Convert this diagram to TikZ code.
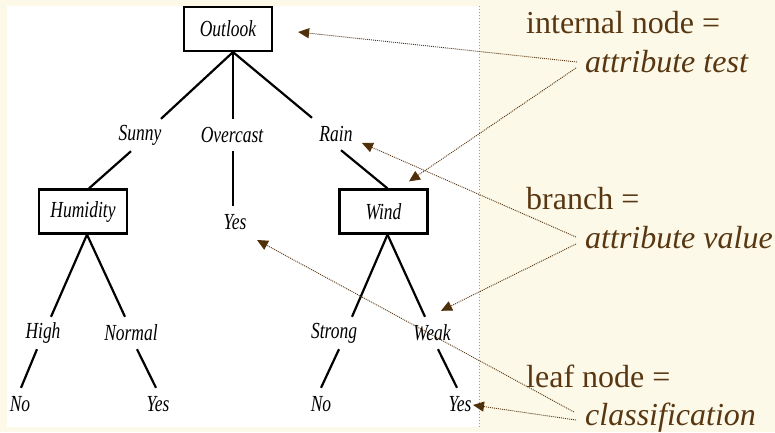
\documentclass[tikz,border=0pt]{standalone}
\usepackage{fontspec}
\newfontfamily\notefont{Liberation Serif}
\newfontfamily\treefont{Liberation Serif}[FakeStretch=0.76]
\usetikzlibrary{arrows.meta}
\definecolor{paper}{RGB}{252,249,232}
\definecolor{ink}{RGB}{88,55,18}
\definecolor{tipc}{RGB}{80,48,10}
\definecolor{rule}{RGB}{160,160,160}

\begin{document}
\begin{tikzpicture}[x=1pt,y=-1pt,
  treefnt/.style={font=\treefont\itshape\fontsize{23}{25}\selectfont},
  treebox/.style={treefnt,draw=black,line width=2.2pt,fill=white,
    minimum width=88pt,minimum height=44pt,inner sep=0pt},
  lbl/.style={treefnt,inner sep=0pt,minimum height=32pt},
  edge/.style={line width=2.2pt,black},
  note/.style={anchor=base west,inner sep=0pt,text=ink,
    font=\notefont\fontsize{32}{36}\selectfont},
  pointer/.style={draw=ink,line width=0.9pt,dash pattern=on 1pt off 1pt,
    -{Triangle[length=11pt,width=10pt,color=tipc]}}
]
% page, white drawing area and its dotted right border
\useasboundingbox (0,0) rectangle (775,432);
\fill[paper] (0,0) rectangle (775,432);
\fill[white] (7,6) rectangle (479,427);
\draw[rule,line width=0.8pt,dash pattern=on 1pt off 2pt] (479,6) -- (479,427);

% decision tree
\node[treebox] (outlook)  at (228,29)    {Outlook};
\node[lbl]     (sunny)    at (140,135)   {Sunny};
\node[lbl]     (overcast) at (232,135)   {Overcast};
\node[lbl]     (rain)     at (336,134)   {Rain};
\node[treebox] (humidity) at (83,211.5)  {Humidity};
\node[lbl]     (yesA)     at (235,222)   {Yes};
\node[treebox] (wind)     at (383.5,211.5) {Wind};
\node[lbl]     (high)     at (43,333)    {High};
\node[lbl]     (normal)   at (131,333)   {Normal};
\node[lbl]     (strong)   at (334,333)   {Strong};
\node[lbl]     (weak)     at (432,333)   {Weak};
\node[lbl]     (noA)      at (20,404)    {No};
\node[lbl]     (yesB)     at (158,404)   {Yes};
\node[lbl]     (noB)      at (321,404)   {No};
\node[lbl]     (yesC)     at (460,404)   {Yes};

\draw[edge] ([shift={(5,0)}]outlook.south) -- ([shift={(21,0)}]sunny.north);
\draw[edge] ([shift={(5,0)}]outlook.south) -- ([shift={(1,0)}]overcast.north);
\draw[edge] ([shift={(5,0)}]outlook.south) -- ([shift={(-24,0)}]rain.north);
\draw[edge] ([shift={(-9,0)}]sunny.south) -- ([shift={(6,0)}]humidity.north);
\draw[edge] ([shift={(1,0)}]overcast.south) -- ([shift={(-2,0)}]yesA.north);
\draw[edge] ([shift={(5,0)}]rain.south) -- ([shift={(4,0)}]wind.north);
\draw[edge] ([shift={(4,0)}]humidity.south) -- ([shift={(8,0)}]high.north);
\draw[edge] ([shift={(4,0)}]humidity.south) -- ([shift={(-6,0)}]normal.north);
\draw[edge] ([shift={(-6,0)}]high.south) -- ([shift={(1,0)}]noA.north);
\draw[edge] ([shift={(6,0)}]normal.south) -- ([shift={(-2,0)}]yesB.north);
\draw[edge] ([shift={(4,0)}]wind.south) -- ([shift={(18,0)}]strong.north);
\draw[edge] ([shift={(4,0)}]wind.south) -- ([shift={(-7,0)}]weak.north);
\draw[edge] ([shift={(5,0)}]strong.south) -- (noB.north);
\draw[edge] ([shift={(6,0)}]weak.south) -- ([shift={(-3,0)}]yesC.north);

% explanatory notes
\node[note] (internal) at (526,33)  {internal node =};
\node[note] (attest)   at (585,72)  {\itshape attribute test};
\node[note] (branch)   at (526,209) {branch =};
\node[note] (atval)    at (585,248) {\itshape attribute value};
\node[note] (leaf)     at (526,387) {leaf node =};
\node[note] (classif)  at (585,425) {\itshape classification};

% pointers from the notes into the tree
\draw[pointer] ([shift={(-8,-10)}]attest.base west) -- ([shift={(25,3)}]outlook.east);
\draw[pointer] ([shift={(-9,-4)}]attest.base west) -- ([shift={(25.5,-7)}]wind.north);
\draw[pointer] ([shift={(-9,-11)}]atval.base west) -- ([shift={(26,9)}]rain.center);
\draw[pointer] ([shift={(-9,-4)}]atval.base west) -- ([shift={(9,-6)}]weak.north);
\draw[pointer] ([shift={(-11,-13)}]classif.base west) -- ([shift={(22,18)}]yesA.center);
\draw[pointer] ([shift={(-9,-5)}]classif.base west) -- ([shift={(13,1)}]yesC.center);
\end{tikzpicture}
\end{document}
